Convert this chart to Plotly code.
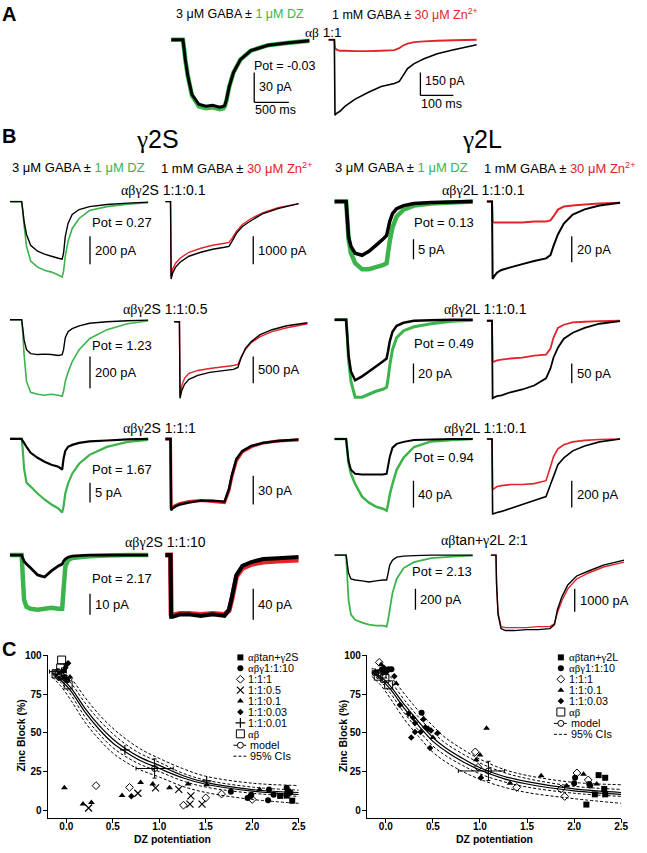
import plotly.graph_objects as go

W, H = 647, 853
GREEN = "#3cb44b"
RED = "#e2232a"
SANS = "Liberation Sans, Arial, Helvetica, sans-serif"
SERIF = "Liberation Serif, Times New Roman, serif"

# ---------------- time bases (ms) ----------------
t_dz = [0, 170, 185, 205, 240, 300, 400, 500, 600, 700, 755, 775, 800, 840, 900, 1000, 1150, 1400, 1700, 2000]
t_zn = [0, 18, 20, 25, 35, 50, 80, 120, 160, 200, 215, 225, 240, 260, 290, 330, 380, 450]

# ---------------- Panel A currents (pA) ----------------
a_dz_ctrl = [0, 0, -8, -20, -36, -55, -65, -67, -66, -68, -67, -66, -60, -47, -33, -20, -11, -5.5, -3, -1]
a_dz_dz = [0, 0, -8, -20, -36, -56, -67, -69, -68, -70, -69, -67, -61, -47, -33, -20, -11, -5.5, -3, -1]
a_zn_ctrl = [0, 0, -494, -481, -468, -436, -390, -345, -306, -286, -273, -240, -189, -156, -124, -91, -65, -33]
a_zn_zn = [0, 0, -52, -65, -72, -72, -75, -75, -72, -68, -55, -39, -26, -16, -10, -6.5, -3.3, 0]

# ---------------- Panel B currents (pA) ----------------
r1s_dz_ctrl = [0, 0, -57, -143, -236, -314, -357, -378, -393, -407, -414, -371, -250, -157, -93, -57, -36, -21, -11, -4]
r1s_dz_dz = [0, 0, -64, -171, -321, -428, -471, -493, -507, -528, -543, -500, -393, -286, -193, -121, -64, -36, -18, -7]
r1s_zn_ctrl = [0, 0, -2785, -2570, -2356, -2178, -1964, -1821, -1714, -1642, -1607, -1428, -1142, -893, -678, -428, -250, -71]
r1s_zn_zn = [0, 0, -2713, -2428, -2213, -2035, -1821, -1678, -1571, -1499, -1464, -1321, -1071, -821, -607, -393, -214, -71]

r1l_dz_ctrl = [0, 0, -3.75, -8.75, -11.25, -13, -13.5, -12.5, -11, -9.5, -8.5, -7, -5, -3, -1.75, -1, -0.5, -0.25, -0.12, 0]
r1l_dz_dz = [0, 0, -3.75, -9.5, -13, -15.5, -17, -17, -16.5, -16, -15.5, -13, -10, -6.5, -3.75, -2, -1, -0.5, -0.25, 0]
r1l_zn_ctrl = [0, 0, -60, -58, -55, -53, -51, -48.5, -46, -44, -41.5, -34.5, -25.5, -17, -10, -6, -3, -0.8]
r1l_zn_zn = [0, 0, -15.4, -16.2, -16.2, -16.2, -16.2, -16.2, -15.4, -15.4, -14.6, -11.5, -6.2, -3.8, -3, -2.3, -1.5, -0.8]

r2s_dz_ctrl = [0, 0, -50, -125, -188, -213, -219, -216, -219, -225, -219, -188, -113, -75, -56, -38, -22, -12.5, -6, -2]
r2s_dz_dz = [0, 0, -75, -219, -388, -456, -469, -475, -469, -475, -481, -450, -388, -331, -263, -188, -119, -62, -25, -6]
r2s_zn_ctrl = [0, 0, -1425, -1295, -1166, -1073, -999, -944, -916, -888, -851, -685, -500, -370, -241, -148, -74, -18]
r2s_zn_zn = [0, 0, -1388, -1203, -1055, -962, -907, -870, -842, -814, -796, -666, -518, -389, -278, -185, -111, -37]

r2l_dz_ctrl = [0, 0, -15, -36, -52, -61, -57, -52, -47, -42, -39, -32, -22, -12, -6, -3, -1, -0.5, 0, 0]
r2l_dz_dz = [0, 0, -15, -40, -62, -78, -78, -75, -72, -70, -68, -60, -46, -30, -18, -11, -7, -4, -1.5, -0.5]
r2l_zn_ctrl = [0, 0, -195, -193, -190, -188, -180, -173, -163, -145, -120, -93, -68, -45, -30, -18, -7.5, -1]
r2l_zn_zn = [0, 0, -103, -103, -100, -98, -95, -93, -88, -85, -70, -43, -18, -10, -4, -2.5, -1, 0]

r3s_dz_ctrl = [0, 0, -0.5, -1, -2, -3.5, -4.75, -5.75, -6.5, -7, -7.75, -5, -3, -2, -1.5, -1, -0.6, -0.4, -0.1, 0]
r3s_dz_dz = [0, 0, -2.5, -7.5, -11, -12, -13.75, -15.25, -16.5, -17.5, -18.5, -17, -13.75, -11.25, -8.75, -6.25, -4, -2, -0.75, -0.25]
r3s_zn_ctrl = [0, 0, -74, -72, -70, -68, -66, -64, -64, -65, -51.5, -37, -20.6, -12.4, -7.2, -4.1, -2.1, -0.5]
r3s_zn_zn = [0, 0, -72, -71, -69, -67, -65, -64, -65, -66, -53.5, -39, -22.7, -13.4, -8.2, -4.1, -2.1, -1]

r3l_dz_ctrl = [0, 0, -15, -33, -46, -52, -53, -53, -53, -53, -52, -41, -27, -13, -7.4, -4.4, -1.5, -0.7, 0, 0]
r3l_dz_dz = [0, 0, -15, -36, -52, -67, -86, -95, -101, -104, -107, -98, -83, -67, -46, -28, -12, -3.7, -1.5, 0]
r3l_zn_ctrl = [0, 0, -562, -555, -548, -540, -518, -488, -459, -429, -340, -281, -192, -141, -89, -52, -22, 0]
r3l_zn_zn = [0, 0, -377, -370, -355, -348, -340, -340, -333, -311, -207, -133, -74, -44, -22, -11, -4, 0]

r4s_dz_ctrl = [0, 0, -1.4, -2.9, -4.3, -6.2, -9.5, -10.5, -7.6, -5.2, -4.3, -2.9, -1.9, -1, -0.5, -0.2, 0, 0, 0, 0]
r4s_dz_dz = [0, 0, -9.5, -21.4, -24.8, -25.7, -26.2, -25.7, -25.2, -25.7, -25.7, -16.7, -5.7, -2.4, -1.4, -1, -0.5, -0.2, 0, 0]
r4s_zn_ctrl = [0, 0, -80, -80, -79, -77, -77, -79, -77, -79, -71, -54, -26, -14, -9, -5, -4, -2.6]
r4s_zn_zn = [0, 0, -77, -79, -77, -76, -76, -77, -76, -77, -72, -57, -28, -17, -12, -9, -7.7, -6.5]

r4l_dz_ctrl = [0, 0, -76, -171, -228, -238, -247, -257, -247, -238, -238, -180, -95, -48, -19, -9.5, -4.8, 0, 0, 0]
r4l_dz_dz = [0, 0, -190, -428, -570, -618, -646, -665, -675, -675, -684, -627, -523, -361, -228, -124, -67, -28, -14, -4.8]
r4l_zn_ctrl = [0, 0, -1305, -2610, -3219, -3306, -3306, -3263, -3263, -3219, -3045, -2393, -1827, -1305, -914, -696, -435, -218]
r4l_zn_zn = [0, 0, -1218, -2523, -3132, -3176, -3176, -3176, -3132, -3132, -3002, -2523, -2001, -1479, -1044, -783, -522, -305]

# ---------------- Panel C data ----------------
curve_x = [-0.15, -0.05, 0.05, 0.2, 0.35, 0.5, 0.63, 0.8, 1.0, 1.25, 1.5, 2.0, 2.5]
cl_ci_hi2 = [91, 89, 85, 73, 62, 53, 46.5, 39.5, 33.5, 27, 22, 17.5, 16]
cl_ci_hi1 = [90, 87, 82, 69.5, 58.5, 49.5, 43, 36.5, 31, 24, 19.5, 15, 13]
cl_model1 = [89, 85, 79, 66, 55, 46, 40, 34, 29, 22.5, 18, 13.4, 11.5]
cl_model2 = [88.5, 83.5, 77, 63.5, 52.5, 43.5, 38, 32, 27, 21, 16.8, 12.4, 10.2]
cl_ci_lo1 = [87.5, 82, 74.5, 60.5, 49.5, 40.5, 35, 29.5, 25, 19, 15, 11, 9]
cl_ci_lo2 = [86, 79.5, 71, 57, 46, 37, 31.5, 26, 21.5, 15.5, 11.5, 7, 4.5]

cr_ci_hi2 = [91.5, 90, 86, 75, 64, 54.5, 47, 40, 33, 26.5, 22.5, 18, 16.5]
cr_ci_hi1 = [90.5, 88, 83, 71, 60, 50.5, 43.5, 37, 30.5, 24.5, 20.5, 15.5, 13.5]
cr_model1 = [89.5, 86, 80, 68, 57, 47, 40.5, 34, 27.5, 22, 18.5, 13.8, 11.5]
cr_model2 = [89, 84.5, 78, 65.5, 54.5, 44.5, 38.5, 32, 26, 20.5, 17, 12.6, 10.3]
cr_ci_lo1 = [88, 83, 75.5, 62.5, 51.5, 41.5, 35.5, 29.5, 23.5, 18.5, 15, 11, 9]
cr_ci_lo2 = [86.5, 80.5, 72, 58.5, 47.5, 37.5, 31.5, 25.5, 20, 15, 11.5, 7.5, 4.5]

# left (gamma2S)
cl_tan_x = [2.30, 2.37, 2.43, 2.38]
cl_tan_y = [9.3, 9.5, 6.2, 12.0]
cl_c10_x = [1.77, 1.95, 1.98, 1.99, 2.17, 2.18, 2.23, 2.37, 2.39, 2.41, -0.02, 0.01]
cl_c10_y = [12, 8, 9, 10, 6.5, 13.5, 10, 14.5, 12.5, 11.5, 86, 84]
cl_111_x = [0.32, 0.68, 1.26, 1.50, 1.67, 2.00, -0.08]
cl_111_y = [15.9, 14.8, 3.3, 8.0, 10.5, 7.0, 86]
cl_105_x = [0.24, 0.77, 0.96, 1.21, 1.34, 1.33, 1.46]
cl_105_y = [1.5, 11, 14.5, 13.5, 9.3, 4.0, 4.0]
cl_101_x = [-0.02, 0.18, 0.27, 0.60, 0.80, 0.93, 1.11, 1.31, 1.51, 2.08, 0.04, -0.07]
cl_101_y = [14.5, 4.0, 5.0, 9.5, 18, 17, 14.5, 17, 16.5, 13.5, 86, 85]
cl_1003_x = [0.70, 0.00, -0.01, 0.02, -0.03]
cl_1003_y = [9.0, 94, 92, 95, 90]
cl_1001_x = [0.63, 1.51, -0.05]
cl_1001_y = [39, 19, 89]
cl_ab_x = [-0.11, -0.06, -0.05, 0.02]
cl_ab_y = [88, 92, 97, 81]
cl_model_x = [-0.09, 0.95]
cl_model_y = [89.5, 27]
cl_model_xerr = [0.09, 0.20]
cl_model_yerr = [1.5, 6.2]

# right (gamma2L)
cr_tan_x = [2.13, 2.22, 2.26, 2.33, 2.32, 2.33]
cr_tan_y = [3.7, 10.3, 22.7, 21.0, 13.8, 10.3]
cr_c10_x = [2.00, 2.01, 2.16, 2.17, -0.04, -0.01, 0.03, 0.06, 0.38]
cr_c10_y = [17.5, 21.0, 17.0, 16.0, 91, 90, 91, 91, 63]
cr_111_x = [-0.07, 0.95, 0.98, 1.39, 1.86, 1.90, 2.03, 2.15]
cr_111_y = [95.5, 37.7, 27.8, 14.8, 13.8, 8.9, 24.1, 19.6]
cr_101_x = [-0.11, -0.05, 0.11, 0.50, 0.96, 1.00, 1.07, 1.32, 1.65, 1.92, 2.10, 2.24]
cr_101_y = [89.7, 94.2, 81.9, 47.0, 32.6, 35.7, 53.0, 17.5, 22.3, 15.9, 23.3, 16.9]
cr_1003_x = [0.09, 0.15, 0.24, 0.29, 0.31, 0.31, 0.37, 0.40, 0.42, 0.45, 0.48, 0.55, 0.27, 0.47, 1.01, -0.02, 0.02]
cr_1003_y = [86.6, 68, 62.3, 59.8, 56.3, 50.5, 50.5, 58.8, 53.6, 52.6, 51.5, 49.9, 47, 40.2, 21, 92, 90]
cr_ab_x = [-0.08, -0.01, 0.03, -0.04]
cr_ab_y = [86.6, 85.2, 81.0, 88]
cr_model_x = [-0.08, 1.09]
cr_model_y = [88.5, 25.4]
cr_model_xerr_plus = [0.06, 0.17]
cr_model_xerr_minus = [0.06, 0.32]
cr_model_yerr = [1.5, 6.2]

x_ticks = [0, 0.5, 1.0, 1.5, 2.0, 2.5]
x_ticklabels = ["0.0", "0.5", "1.0", "1.5", "2.0", "2.5"]
y_ticks = [0, 25, 50, 75, 100]

# =====================================================================
fig = go.Figure()
axes = {}
shapes = []
annos = []
count = [0]


def new_axes():
    count[0] += 1
    n = count[0]
    s = "" if n == 1 else str(n)
    return "xaxis" + s, "yaxis" + s, "x" + s, "y" + s


def py(p):
    return 1 - p / H


def text(x, y, s, size=13, anchor="left", color="black", family=SANS, weight="normal", angle=0):
    annos.append(dict(x=x / W, y=py(y), xref="paper", yref="paper", text=s, showarrow=False,
                      xanchor=anchor, yanchor="middle", textangle=angle, borderpad=0,
                      font=dict(family=family, size=size, color=color, weight=weight)))


def colored(s, color, size):
    return '<span style="color:%s;font-size:%spx">%s</span>' % (color, size, s)


def trace_panel(kind, x0, base, k, series, sb_x, sb_top, sb_val, sb_text, lab_dy=None, hbar=None, fs=13,
                span=None):
    xa, ya, xr, yr = new_axes()
    if kind == "dz":
        tt, t_end, sp = t_dz, 2000.0, 140.0
    else:
        tt, t_end, sp = t_zn, 450.0, 135.0
    if span is not None:
        sp = span
    mpp = t_end / sp
    top_px, bot_px = base - 12, base + 100
    axes[xa] = dict(domain=[x0 / W, (x0 + sp) / W], range=[0, t_end], visible=False, anchor=yr)
    axes[ya] = dict(domain=[py(bot_px), py(top_px)], range=[-(bot_px - base) * k, (base - top_px) * k],
                    visible=False, anchor=xr)
    for vals, color, width in series:
        fig.add_trace(go.Scatter(x=tt, y=vals, mode="lines", xaxis=xr, yaxis=yr,
                                 line=dict(color=color, width=width, simplify=False),
                                 showlegend=False, hoverinfo="skip"))
    tb = (sb_x - x0) * mpp
    y_top = -(sb_top - base) * k
    y_bot = y_top - sb_val
    shapes.append(dict(type="line", xref=xr, yref=yr, x0=tb, x1=tb, y0=y_top, y1=y_bot,
                       line=dict(color="black", width=1.3)))
    bar_px = sb_val / k
    ly = sb_top + (lab_dy if lab_dy is not None else bar_px / 2)
    text(sb_x + 4, ly, sb_text, size=fs)
    if hbar:
        hval, htext, hdy = hbar
        shapes.append(dict(type="line", xref=xr, yref=yr, x0=tb, x1=tb + hval, y0=y_bot, y1=y_bot,
                           line=dict(color="black", width=1.3)))
        text(sb_x, sb_top + bar_px + hdy, htext, size=fs)


# ---------------- Panel A ----------------
text(1, 8, "A", size=20, weight="bold")
text(243, 8, '3 μM GABA ± ' + colored("1 μM DZ", GREEN, 12.5), size=12.5, anchor="center")
text(409, 8, '1 mM GABA ± ' + colored("30 μM Zn<sup>2+</sup>", RED, 12.5), size=12.5, anchor="center")
text(327, 27, '<span style="font-family:Liberation Serif">αβ</span> 1:1', size=13.5, anchor="center")
trace_panel("dz", 173, 34, 1.0, [(a_dz_dz, GREEN, 4.5), (a_dz_ctrl, "black", 3)],
            257, 67, 30, "30 pA", hbar=(500, "500 ms", 8), fs=12.5)
text(256, 60, "Pot = -0.03", size=12.5)
trace_panel("zn", 332, 34, 6.5, [(a_zn_zn, RED, 1.8), (a_zn_ctrl, "black", 1.6)],
            425, 67, 150, "150 pA", lab_dy=9, hbar=(100, "100 ms", 9), fs=12.5, span=150)

# ---------------- Panel B headers ----------------
text(1, 131, "B", size=20, weight="bold")
text(159, 134, '<span style="font-family:Liberation Serif">γ</span>2S', size=25, anchor="center")
text(487, 134, '<span style="font-family:Liberation Serif">γ</span>2L', size=25, anchor="center")
for cx, lab in [(79, "dz"), (239, "zn"), (406, "dz"), (566, "zn")]:
    if lab == "dz":
        s = '3 μM GABA ± ' + colored("1 μM DZ", GREEN, 13)
    else:
        s = '1 mM GABA ± ' + colored("30 μM Zn<sup>2+</sup>", RED, 13)
    text(cx, 163, s, size=13, anchor="center")

AB = '<span style="font-family:Liberation Serif">αβγ</span>'
AB2 = '<span style="font-family:Liberation Serif">αβ</span>'
row_labels = [
    (165, 185, AB + "2S 1:1:0.1"), (489, 185, AB + "2L 1:1:0.1"),
    (167, 305, AB + "2S 1:1:0.5"), (491, 305, AB + "2L 1:1:0.1"),
    (161, 425, AB + "2S 1:1:1"), (491, 425, AB + "2L 1:1:0.1"),
    (167, 540, AB + "2S 1:1:10"), (490, 538, AB2 + "tan+" + '<span style="font-family:Liberation Serif">γ</span>' + "2L 2:1"),
]
for x, y, s in row_labels:
    text(x, y, s, size=14, anchor="center")

# row 1
trace_panel("dz", 10, 197, 7.14, [(r1s_dz_dz, GREEN, 1.6), (r1s_dz_ctrl, "black", 1.4)], 91, 232, 200, "200 pA")
text(92, 218, "Pot = 0.27")
trace_panel("zn", 167, 197, 35.7, [(r1s_zn_zn, RED, 1.4), (r1s_zn_ctrl, "black", 1.4)], 256, 232, 1000, "1000 pA")
trace_panel("dz", 338, 197, 0.25, [(r1l_dz_dz, GREEN, 4.5), (r1l_dz_ctrl, "black", 3.5)], 418, 235, 5, "5 pA")
text(418, 218, "Pot = 0.13")
trace_panel("zn", 492, 197, 0.77, [(r1l_zn_zn, RED, 2), (r1l_zn_ctrl, "black", 2)], 578, 232, 20, "20 pA")
# row 2
trace_panel("dz", 10, 316, 6.25, [(r2s_dz_dz, GREEN, 1.6), (r2s_dz_ctrl, "black", 1.4)], 91, 353, 200, "200 pA")
text(92, 342, "Pot = 1.23")
trace_panel("zn", 176, 318, 18.5, [(r2s_zn_zn, RED, 1.4), (r2s_zn_ctrl, "black", 1.4)], 256, 353, 500, "500 pA")
trace_panel("dz", 338, 316, 1.0, [(r2l_dz_dz, GREEN, 3), (r2l_dz_ctrl, "black", 2.5)], 418, 360, 20, "20 pA")
text(418, 340, "Pot = 0.49")
trace_panel("zn", 492, 317, 2.5, [(r2l_zn_zn, RED, 1.8), (r2l_zn_ctrl, "black", 1.8)], 578, 360, 50, "50 pA")
# row 3
trace_panel("dz", 10, 436, 0.25, [(r3s_dz_dz, GREEN, 2.2), (r3s_dz_ctrl, "black", 2.2)], 91, 480, 5, "5 pA")
text(92, 467, "Pot = 1.67")
trace_panel("zn", 167, 436, 1.03, [(r3s_zn_zn, RED, 3), (r3s_zn_ctrl, "black", 2.4)], 256, 473, 30, "30 pA")
trace_panel("dz", 338, 436, 1.48, [(r3l_dz_dz, GREEN, 2.5), (r3l_dz_ctrl, "black", 2)], 418, 478, 40, "40 pA")
text(418, 455, "Pot = 0.94")
trace_panel("zn", 492, 436, 7.4, [(r3l_zn_zn, RED, 1.6), (r3l_zn_ctrl, "black", 1.6)], 578, 478, 200, "200 pA")
# row 4
trace_panel("dz", 10, 553, 0.476, [(r4s_dz_dz, GREEN, 4.5), (r4s_dz_ctrl, "black", 2.8)], 91, 592, 10, "10 pA")
text(92, 577, "Pot = 2.17")
trace_panel("zn", 167, 553, 1.29, [(r4s_zn_zn, RED, 5), (r4s_zn_ctrl, "black", 4)], 256, 587, 40, "40 pA")
trace_panel("dz", 338, 553, 9.5, [(r4l_dz_dz, GREEN, 1.8), (r4l_dz_ctrl, "black", 1.4)], 420, 587, 200, "200 pA")
text(415, 570, "Pot = 2.13")
trace_panel("zn", 496, 553, 43.5, [(r4l_zn_zn, RED, 1.4), (r4l_zn_ctrl, "black", 1.4)], 581, 587, 1000, "1000 pA")

# ---------------- Panel C ----------------
text(1, 648, "C", size=20, weight="bold")
TICKF = dict(family=SANS, size=10, color="black", weight="bold")
C_TOP, C_BOT = 654, 817.8


def c_axes(xd0, xd1):
    xa, ya, xr, yr = new_axes()
    common = dict(showline=True, linecolor="black", linewidth=1.2, ticks="outside", ticklen=4,
                  tickwidth=1.2, tickcolor="black", showgrid=False, zeroline=False, tickfont=TICKF)
    axes[xa] = dict(domain=[xd0 / W, xd1 / W], range=[-0.2, 2.5], tickvals=x_ticks,
                    ticktext=x_ticklabels, anchor=yr, ticklabelstandoff=-5, **common)
    axes[ya] = dict(domain=[py(C_BOT), py(C_TOP)], range=[-5, 100], tickvals=y_ticks, anchor=xr,
                    ticklabelstandoff=-1, **common)
    return xr, yr


def add_curves(xr, yr, hi2, hi1, m1, m2, lo1, lo2):
    for vals, dash in [(hi2, "dash"), (hi1, "dash"), (m1, "solid"), (m2, "solid"), (lo1, "dash"), (lo2, "dash")]:
        fig.add_trace(go.Scatter(x=curve_x, y=vals, mode="lines", xaxis=xr, yaxis=yr,
                                 line=dict(color="black", width=1.0 if dash == "dash" else 1.2,
                                           dash="3px,2px" if dash == "dash" else "solid", shape="spline"),
                                 showlegend=False, hoverinfo="skip"))


STY = {
    "tan": dict(symbol="square", size=6, color="black", line=dict(width=0)),
    "c10": dict(symbol="circle", size=6, color="black", line=dict(width=0)),
    "111": dict(symbol="diamond-open", size=6, color="black", line=dict(width=1, color="black")),
    "105": dict(symbol="x-thin-open", size=7, color="black", line=dict(width=1.2, color="black")),
    "101": dict(symbol="triangle-up", size=6, color="black", line=dict(width=0)),
    "1003": dict(symbol="diamond", size=5, color="black", line=dict(width=0)),
    "1001": dict(symbol="cross-thin-open", size=7, color="black", line=dict(width=1.2, color="black")),
    "ab": dict(symbol="square-open", size=8, color="black", line=dict(width=1, color="black")),
}


def pts(xr, yr, xs, ys, key):
    fig.add_trace(go.Scatter(x=xs, y=ys, mode="markers", xaxis=xr, yaxis=yr, marker=STY[key],
                             showlegend=False, hoverinfo="skip", cliponaxis=False))


# left plot
xr, yr = c_axes(48.2, 302)
add_curves(xr, yr, cl_ci_hi2, cl_ci_hi1, cl_model1, cl_model2, cl_ci_lo1, cl_ci_lo2)
pts(xr, yr, cl_ab_x, cl_ab_y, "ab")
pts(xr, yr, cl_tan_x, cl_tan_y, "tan")
pts(xr, yr, cl_c10_x, cl_c10_y, "c10")
pts(xr, yr, cl_111_x, cl_111_y, "111")
pts(xr, yr, cl_105_x, cl_105_y, "105")
pts(xr, yr, cl_101_x, cl_101_y, "101")
pts(xr, yr, cl_1003_x, cl_1003_y, "1003")
pts(xr, yr, cl_1001_x, cl_1001_y, "1001")
fig.add_trace(go.Scatter(x=cl_model_x, y=cl_model_y, mode="markers", xaxis=xr, yaxis=yr,
                         marker=dict(symbol="circle-open", size=6, color="black", line=dict(width=1)),
                         error_x=dict(type="data", array=cl_model_xerr, color="black", thickness=1, width=2),
                         error_y=dict(type="data", array=cl_model_yerr, color="black", thickness=1, width=2),
                         showlegend=False, hoverinfo="skip", cliponaxis=False))
text(21, 735, "Zinc Block (%)", size=10.5, anchor="center", weight="bold", angle=-90)
text(174, 839, "DZ potentiation", size=10.5, anchor="center", weight="bold")

# right plot
xr2, yr2 = c_axes(371, 628)
add_curves(xr2, yr2, cr_ci_hi2, cr_ci_hi1, cr_model1, cr_model2, cr_ci_lo1, cr_ci_lo2)
pts(xr2, yr2, cr_ab_x, cr_ab_y, "ab")
pts(xr2, yr2, cr_tan_x, cr_tan_y, "tan")
pts(xr2, yr2, cr_c10_x, cr_c10_y, "c10")
pts(xr2, yr2, cr_111_x, cr_111_y, "111")
pts(xr2, yr2, cr_101_x, cr_101_y, "101")
pts(xr2, yr2, cr_1003_x, cr_1003_y, "1003")
fig.add_trace(go.Scatter(x=cr_model_x, y=cr_model_y, mode="markers", xaxis=xr2, yaxis=yr2,
                         marker=dict(symbol="circle-open", size=6, color="black", line=dict(width=1)),
                         error_x=dict(type="data", symmetric=False, array=cr_model_xerr_plus,
                                      arrayminus=cr_model_xerr_minus, color="black", thickness=1, width=2),
                         error_y=dict(type="data", array=cr_model_yerr, color="black", thickness=1, width=2),
                         showlegend=False, hoverinfo="skip", cliponaxis=False))
text(347, 735, "Zinc Block (%)", size=10.5, anchor="center", weight="bold", angle=-90)
text(500, 839, "DZ potentiation", size=10.5, anchor="center", weight="bold")

# ---------------- hand-made legends (pixel overlay axis) ----------------
xa, ya, lx, ly = new_axes()
axes[xa] = dict(domain=[0, 1], range=[0, W], visible=False, anchor=ly)
axes[ya] = dict(domain=[0, 1], range=[H, 0], visible=False, anchor=lx)

SER = '<span style="font-family:Liberation Serif">%s</span>'
left_leg = [("tan", SER % "αβ" + "tan+" + SER % "γ" + "2S", 656), ("c10", SER % "αβγ" + "1:1:10", 667),
            ("111", "1:1:1", 678), ("105", "1:1:0.5", 689), ("101", "1:1:0.1", 700),
            ("1003", "1:1:0.03", 711), ("1001", "1:1:0.01", 722), ("ab", SER % "αβ", 733)]
right_leg = [("tan", SER % "αβ" + "tan+" + SER % "γ" + "2L", 656), ("c10", SER % "αβγ" + "1:1:10", 667),
             ("111", "1:1:1", 678), ("101", "1:1:0.1", 689), ("1003", "1:1:0.03", 700),
             ("ab", SER % "αβ", 711)]
LEG_FS = 10.8


def legend(entries, sx, tx, y_model, y_ci):
    for key, label, yy in entries:
        fig.add_trace(go.Scatter(x=[sx], y=[yy], mode="markers", xaxis=lx, yaxis=ly, marker=STY[key],
                                 showlegend=False, hoverinfo="skip", cliponaxis=False))
        text(tx, yy, label, size=LEG_FS)
    fig.add_trace(go.Scatter(x=[sx - 7, sx + 6], y=[y_model] * 2, mode="lines", xaxis=lx, yaxis=ly,
                             line=dict(color="black", width=1),
                             showlegend=False, hoverinfo="skip", cliponaxis=False))
    fig.add_trace(go.Scatter(x=[sx], y=[y_model], mode="markers", xaxis=lx, yaxis=ly,
                             marker=dict(symbol="circle", size=6, color="white", line=dict(width=1, color="black")),
                             showlegend=False, hoverinfo="skip", cliponaxis=False))
    text(tx + 2, y_model, "model", size=LEG_FS)
    fig.add_trace(go.Scatter(x=[sx - 7, sx + 6], y=[y_ci] * 2, mode="lines", xaxis=lx, yaxis=ly,
                             line=dict(color="black", width=1, dash="3px,2px"),
                             showlegend=False, hoverinfo="skip"))
    text(tx + 2, y_ci, "95% CIs", size=LEG_FS)


legend(left_leg, 243, 250, 744.5, 755.5)
legend(right_leg, 567, 574, 722.5, 733.5)

fig.update_layout(
    width=W, height=H, margin=dict(l=0, r=0, t=0, b=0),
    paper_bgcolor="white", plot_bgcolor="rgba(0,0,0,0)",
    showlegend=False, shapes=shapes, annotations=annos,
    font=dict(family=SANS, color="black"),
    **axes,
)
fig.write_html("out.html", config={"displayModeBar": False},
               post_script="document.body.style.margin='0px';document.body.style.overflow='hidden';")
